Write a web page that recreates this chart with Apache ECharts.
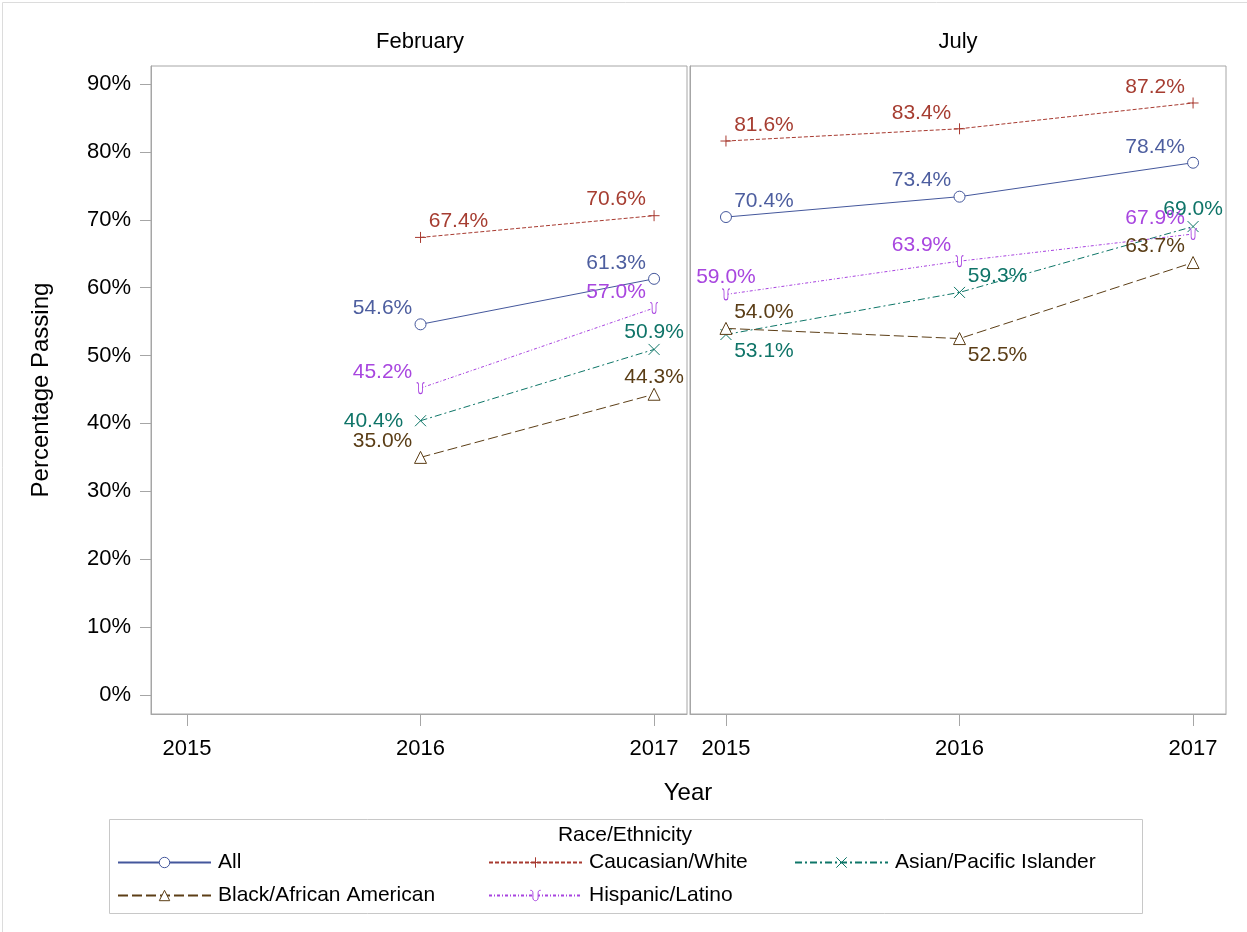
<!DOCTYPE html>
<html>
<head>
<meta charset="utf-8">
<script src="https://cdn.jsdelivr.net/npm/echarts@6/dist/echarts.min.js"></script>
<style>
  html, body { margin: 0; padding: 0; background: #fff; }
  #main { width: 1247px; height: 932px; }
</style>
</head>
<body>
<div id="main"></div>
<script>
// data
var groups = ['All', 'Caucasian/White', 'Asian/Pacific Islander', 'Black/African American', 'Hispanic/Latino'];
var febYears = [2016, 2017];
var julYears = [2015, 2016, 2017];
var yearTicks = [2015, 2016, 2017];
var pctTicks = [0, 10, 20, 30, 40, 50, 60, 70, 80, 90];

var febAll = [54.6, 61.3];
var febWhite = [67.4, 70.6];
var febAsian = [40.4, 50.9];
var febBlack = [35.0, 44.3];
var febHisp = [45.2, 57.0];

var julAll = [70.4, 73.4, 78.4];
var julWhite = [81.6, 83.4, 87.2];
var julAsian = [53.1, 59.3, 69.0];
var julBlack = [54.0, 52.5, 63.7];
var julHisp = [59.0, 63.9, 67.9];

var FONT = '"Liberation Sans", Arial, sans-serif';
var colors = ['#44579c', '#a83a30', '#0e7668', '#5c3e16', '#a843e0'];
var labelColors = ['#4d5e9f', '#a63d31', '#0f7468', '#5a3d16', '#a846df'];
var dashes = ['solid', [4, 2], [7, 3, 2, 3], [10, 4], [3, 2, 1, 2]];
var symbols = [
  'circle',
  'path://M5,0L5,10M0,5L10,5',
  'path://M0,0L10,10M0,10L10,0',
  'triangle',
  'path://M0,1C2,1 2,2 2,4L2,7C2,10 6,10 6,7L6,4C6,2 6,1 8,1'
];
var symSizes = [11, 11, 11, 12, [8, 11]];

// label placement around the point (offset of label centre)
var off = { ul: [-38, -16], ur: [38, -16], u: [0, -17], dr: [38, 17], l: [-47, 0] };
var febPlace = [['ul', 'ul'], ['ur', 'ul'], ['l', 'u'], ['ul', 'u'], ['ul', 'ul']];
var julPlace = [['ur', 'ul', 'ul'], ['ur', 'ul', 'ul'], ['dr', 'ur', 'u'], ['ur', 'dr', 'ul'], ['u', 'ul', 'ul']];

var febVals = [febAll, febWhite, febAsian, febBlack, febHisp];
var julVals = [julAll, julWhite, julAsian, julBlack, julHisp];

function makeSeries(idx, gi, years, vals, place) {
  var data = years.map(function (y, k) {
    return {
      value: [y, vals[k]],
      label: { offset: off[place[k]] }
    };
  });
  return {
    name: groups[idx],
    type: 'line',
    xAxisIndex: gi,
    yAxisIndex: gi,
    data: data,
    symbol: symbols[idx],
    symbolSize: symSizes[idx],
    symbolKeepAspect: true,
    showAllSymbol: true,
    lineStyle: { color: colors[idx], width: 1, type: dashes[idx] },
    // hollow markers: white fill, thin coloured outline
    itemStyle: { color: '#fff', borderColor: colors[idx], borderWidth: 1 },
    label: {
      show: true,
      position: 'inside',
      align: 'center',
      verticalAlign: 'middle',
      color: labelColors[idx],
      fontFamily: FONT,
      fontSize: 21,
      formatter: function (p) { return p.value[1].toFixed(1) + '%'; }
    },
    emphasis: { disabled: true },
    animation: false,
    z: 3
  };
}

var series = [];
for (var i = 0; i < groups.length; i++) {
  series.push(makeSeries(i, 0, febYears, febVals[i], febPlace[i]));
}
for (var i = 0; i < groups.length; i++) {
  series.push(makeSeries(i, 1, julYears, julVals[i], julPlace[i]));
}

var axisGrey = '#a6a6a6';

function xAx(gi) {
  return {
    type: 'value',
    gridIndex: gi,
    min: 2014.846,
    max: 2017.141,
    axisLine: { show: true, onZero: false, lineStyle: { color: axisGrey } },
    axisTick: { show: true, length: 12, customValues: yearTicks, lineStyle: { color: axisGrey } },
    axisLabel: {
      customValues: yearTicks,
      margin: 24,
      color: '#000',
      fontFamily: FONT,
      fontSize: 22,
      formatter: function (v) { return String(Math.round(v)); }
    },
    splitLine: { show: false }
  };
}

function yAx(gi) {
  var ax = {
    type: 'value',
    gridIndex: gi,
    min: -2.8,
    max: 92.65,
    axisLine: { show: true, lineStyle: { color: axisGrey } },
    axisTick: { show: gi === 0, length: 11, customValues: pctTicks, lineStyle: { color: axisGrey } },
    axisLabel: {
      show: gi === 0,
      customValues: pctTicks,
      margin: 20,
      color: '#000',
      fontFamily: FONT,
      fontSize: 22,
      formatter: function (v) { return Math.round(v) + '%'; }
    },
    splitLine: { show: false }
  };
  if (gi === 0) {
    ax.name = 'Percentage Passing';
    ax.nameLocation = 'middle';
    ax.nameGap = 98;
    ax.nameTextStyle = { color: '#000', fontFamily: FONT, fontSize: 24 };
  }
  return ax;
}

// one legend per item so they sit like the original grid
var legendPos = [
  { left: 117, top: 852 },
  { left: 488, top: 852 },
  { left: 794, top: 852 },
  { left: 117, top: 885 },
  { left: 488, top: 885 }
];
var legends = groups.map(function (g, i) {
  return {
    data: [g],
    left: legendPos[i].left,
    top: legendPos[i].top,
    orient: 'horizontal',
    itemWidth: 93,
    itemHeight: 13,
    itemGap: 14,
    selectedMode: false,
    padding: 0,
    itemStyle: { borderWidth: 1 },
    textStyle: { color: '#000', fontFamily: FONT, fontSize: 21, padding: [0, 0, 0, 2] }
  };
});

var option = {
  backgroundColor: '#fff',
  animation: false,
  grid: [
    { left: 151, top: 66, width: 536, height: 648, show: true, borderColor: axisGrey, borderWidth: 1 },
    { left: 690, top: 66, width: 536, height: 648, show: true, borderColor: axisGrey, borderWidth: 1 }
  ],
  xAxis: [xAx(0), xAx(1)],
  yAxis: [yAx(0), yAx(1)],
  legend: legends,
  series: series,
  graphic: [
    { type: 'rect', left: 0, top: 0, shape: { width: 1246, height: 931 },
      style: { fill: 'none', stroke: '#dcdcdc', lineWidth: 1 }, silent: true },
    { type: 'text', x: 420, y: 42, style: { text: 'February', fill: '#000', font: '22px ' + FONT, align: 'center', verticalAlign: 'middle' } },
    { type: 'text', x: 958, y: 42, style: { text: 'July', fill: '#000', font: '22px ' + FONT, align: 'center', verticalAlign: 'middle' } },
    { type: 'text', x: 688, y: 793, style: { text: 'Year', fill: '#000', font: '24px ' + FONT, align: 'center', verticalAlign: 'middle' } },
    { type: 'rect', left: 107, top: 817, shape: { width: 1033, height: 94 },
      style: { fill: 'none', stroke: '#c8c8c8', lineWidth: 1 }, silent: true },
    { type: 'text', x: 625, y: 835, style: { text: 'Race/Ethnicity', fill: '#000', font: '21px ' + FONT, align: 'center', verticalAlign: 'middle' } }
  ]
};

var chart = echarts.init(document.getElementById('main'));
chart.setOption(option);
</script>
</body>
</html>
